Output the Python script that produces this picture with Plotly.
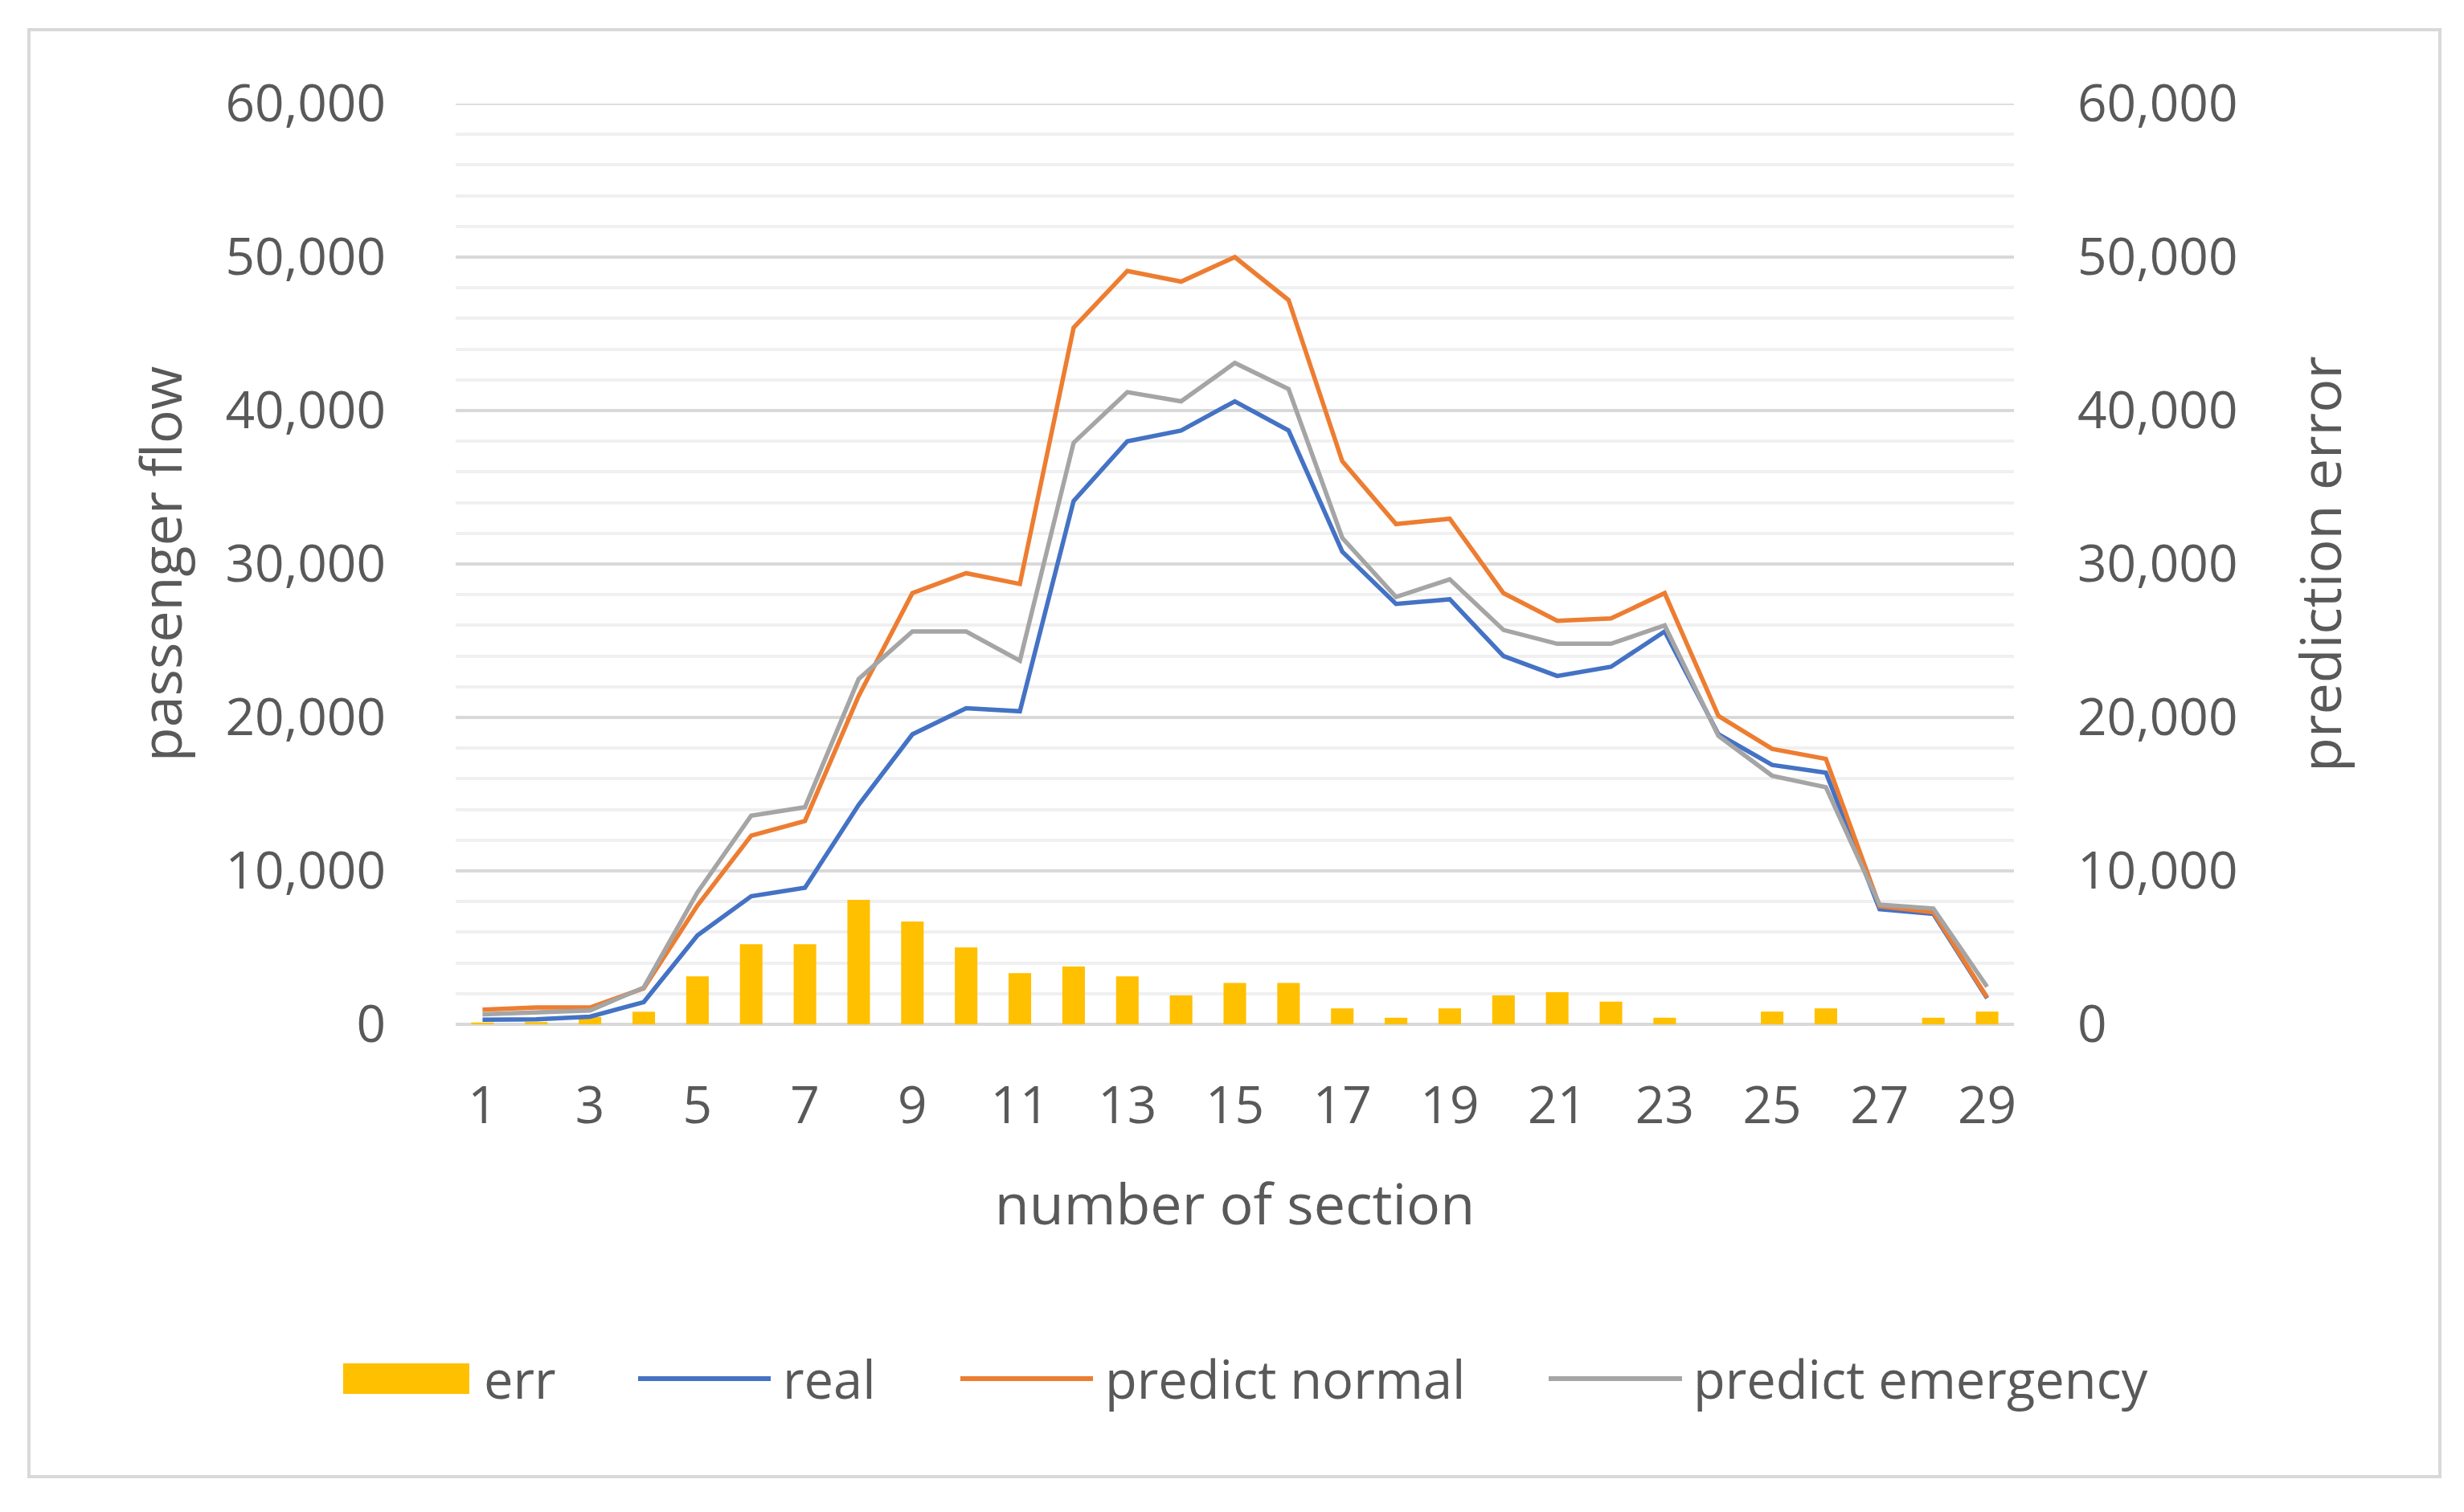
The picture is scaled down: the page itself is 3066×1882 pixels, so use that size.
import plotly.graph_objects as go

sections = list(range(1, 30))
x_tick_labels = [str(v) for v in range(1, 30, 2)]

real = [300, 330, 500, 1450, 5800, 8350, 8900, 14300, 18900, 20600, 20400, 34100, 38000, 38700,
        40600, 38700, 30800, 27400, 27700, 24000, 22700, 23300, 25600, 18900, 16900, 16400,
        7500, 7200, 1700]
predict_normal = [950, 1100, 1100, 2350, 7750, 12300, 13250, 21400, 28100, 29400, 28700, 45400,
                  49100, 48400, 50000, 47200, 36700, 32600, 32950, 28100, 26300, 26450, 28100,
                  20100, 17950, 17300, 7700, 7300, 1750]
predict_emergency = [650, 800, 900, 2400, 8600, 13600, 14150, 22500, 25600, 25600, 23700, 37900,
                     41200, 40600, 43100, 41400, 31700, 27850, 29000, 25700, 24800, 24800, 26000,
                     18800, 16200, 15450, 7800, 7550, 2450]
err = [120, 150, 470, 820, 3130, 5220, 5220, 8120, 6700, 5010, 3340, 3770, 3130, 1880, 2700,
       2700, 1040, 430, 1040, 1880, 2090, 1480, 430, 0, 830, 1040, 0, 430, 830]

y_ticks = [0, 10000, 20000, 30000, 40000, 50000, 60000]

W, H = 3066, 1882
L, R, T, B = 567, 2506, 129, 1275
PW, PH = R - L, B - T

def px(x):
    return (x - L) / PW

def py(y):
    return (B - y) / PH

FONT = "Open Sans"
TXT = "#595959"
GRID = "#d9d9d9"
MINOR = "#f0f0f0"

C_ERR = "#FFC000"
C_REAL = "#4472C4"
C_NORM = "#ED7D31"
C_EMER = "#A5A5A5"

fig = go.Figure()
fig.add_trace(go.Bar(x=sections, y=err, name="err", marker=dict(color=C_ERR, line=dict(width=0)),
                     width=0.42, yaxis="y2"))
fig.add_trace(go.Scatter(x=sections, y=real, name="real", mode="lines",
                         line=dict(color=C_REAL, width=5.5), yaxis="y"))
fig.add_trace(go.Scatter(x=sections, y=predict_normal, name="predict normal", mode="lines",
                         line=dict(color=C_NORM, width=5.5), yaxis="y"))
fig.add_trace(go.Scatter(x=sections, y=predict_emergency, name="predict emergency", mode="lines",
                         line=dict(color=C_EMER, width=5.5), yaxis="y"))

axis_font = dict(family=FONT, size=64, color=TXT)
title_font = dict(family=FONT, size=70, color=TXT)

fig.update_layout(
    width=W, height=H,
    margin=dict(l=L, r=W - R, t=T, b=H - B, pad=0),
    paper_bgcolor="white", plot_bgcolor="white",
    showlegend=False,
    font=dict(family=FONT, color=TXT),
    xaxis=dict(
        range=[0.5, 29.5], tickmode="array", tickvals=list(range(1, 30, 2)), ticktext=x_tick_labels,
        showgrid=False, zeroline=False, showline=False, ticks="", ticklabelstandoff=58,
        tickfont=axis_font,
        title=dict(text="number of section", font=title_font, standoff=58),
    ),
    # base axis (right side) carries the error bars and the gridlines
    yaxis2=dict(
        range=[0, 60000], tickmode="array", tickvals=y_ticks, tickformat=",",
        side="right", anchor="x",
        showgrid=True, gridcolor=GRID, gridwidth=3.5,
        zeroline=True, zerolinecolor=GRID, zerolinewidth=3.5, showline=False,
        minor=dict(dtick=2000, showgrid=True, gridcolor=MINOR, gridwidth=3.5),
        ticks="", ticklabelstandoff=78, tickfont=axis_font,
        title=dict(text="prediction error", font=title_font, standoff=80),
    ),
    # left axis overlays it and carries the passenger-flow lines
    yaxis=dict(
        range=[0, 60000], tickmode="array", tickvals=y_ticks, tickformat=",",
        overlaying="y2", side="left", anchor="x",
        showgrid=False, zeroline=False, showline=False,
        ticks="", ticklabelstandoff=86, tickfont=axis_font,
        title=dict(text="passenger flow", font=title_font, standoff=30),
    ),
)

shapes = []
# top gridline at 60,000
shapes.append(dict(type="line", xref="paper", yref="y2", x0=0, x1=1, y0=60000, y1=60000,
                   line=dict(color=GRID, width=3.5), layer="below"))
# outer frame
shapes.append(dict(type="rect", xref="paper", yref="paper",
                   x0=px(36), x1=px(3036), y0=py(1838), y1=py(37),
                   line=dict(color=GRID, width=4), fillcolor="rgba(0,0,0,0)", layer="below"))
# legend symbols
ly = 1716
shapes.append(dict(type="rect", xref="paper", yref="paper", x0=px(427), x1=px(584),
                   y0=py(ly + 19), y1=py(ly - 19), line=dict(width=0), fillcolor=C_ERR))
for x0, x1, c in [(794, 959, C_REAL), (1195, 1360, C_NORM), (1927, 2093, C_EMER)]:
    shapes.append(dict(type="line", xref="paper", yref="paper", x0=px(x0), x1=px(x1),
                       y0=py(ly), y1=py(ly), line=dict(color=c, width=6)))
fig.update_layout(shapes=shapes)

annots = []
for x, t in [(600, "err"), (972, "real"), (1373, "predict normal"), (2105, "predict emergency")]:
    annots.append(dict(xref="paper", yref="paper", x=px(x), y=py(ly), text=t, showarrow=False,
                       xanchor="left", yanchor="middle",
                       font=dict(family=FONT, size=65, color=TXT)))
fig.update_layout(annotations=annots)

fig.write_html("out.html", config={"displayModeBar": False},
               post_script="document.body.style.margin='0';document.body.style.overflow='hidden';")
